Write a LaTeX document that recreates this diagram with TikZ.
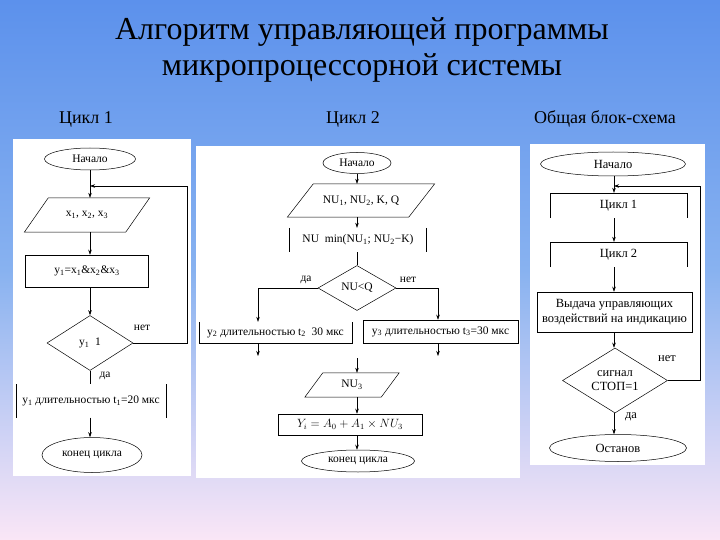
\documentclass[tikz,border=0pt]{standalone}
\usepackage{fontspec}
\setmainfont{Liberation Serif}
\usetikzlibrary{shapes.geometric,arrows.meta}
\definecolor{bgtop}{RGB}{92,145,236}
\definecolor{bgmid}{RGB}{136,178,240}
\definecolor{bglav}{RGB}{210,212,245}
\definecolor{bgbot}{RGB}{250,230,246}
\pgfdeclareverticalshading{slidebg}{100bp}{color(0bp)=(bgbot); color(25bp)=(bgbot); color(34bp)=(bglav); color(50bp)=(bgmid); color(75bp)=(bgtop); color(100bp)=(bgtop)}
\newcommand\ioframe[2]{\draw[wire] ([xshift=#2pt]#1.north west) -- ([xshift=#2pt]#1.north east) -- ([xshift=-#2pt]#1.south east) -- ([xshift=-#2pt]#1.south west) -- cycle;}
\tikzset{
  sm/.style={font=\rmfamily\fontsize{11.5}{13}\selectfont},
  md/.style={font=\rmfamily\fontsize{12.5}{14.5}\selectfont},
  wire/.style={line width=0.5pt},
  flow/.style={line width=0.5pt, -{Stealth[length=5pt,width=3.5pt]}},
  box/.style={draw, line width=0.5pt, inner sep=0pt},
  bare/.style={inner sep=0pt},
  term/.style={ellipse, draw, line width=0.5pt, inner sep=0pt},
  cond/.style={diamond, draw, line width=0.5pt, inner sep=0pt, aspect=1.6, align=center},
}
\begin{document}
\begin{tikzpicture}[x=1pt, y=-1pt]
\useasboundingbox (0,0) rectangle (720,540);
\shade[shading=slidebg] (0,0) rectangle (720,540);
\node[align=center, font=\rmfamily\fontsize{32}{36}\selectfont] (ttl) at (362,50) {Алгоритм управляющей программы\\микропроцессорной системы};
\node[font=\rmfamily\fontsize{18}{20}\selectfont] (h1) at (86,119) {Цикл 1};
\node[font=\rmfamily\fontsize{18}{20}\selectfont] (h2) at (353,119) {Цикл 2};
\node[font=\rmfamily\fontsize{18}{20}\selectfont] (h3) at (605,119) {Общая блок-схема};
\fill[white] (13,139) rectangle (191,476);
\fill[white] (196,146) rectangle (520,478);
\fill[white] (530,144) rectangle (705,465);

\node[term, sm, minimum width=91pt, minimum height=22pt] (st1) at (90,159) {Начало};
\node[bare, sm, minimum width=101pt, minimum height=34pt] (in1) at (87,215) {x\textsubscript{1}, x\textsubscript{2}, x\textsubscript{3}};
\ioframe{in1}{12}
\node[box, sm, minimum width=123pt, minimum height=32pt] (op1) at (87,271) {y\textsubscript{1}=x\textsubscript{1}\&x\textsubscript{2}\&x\textsubscript{3}};
\node[cond, sm, minimum width=86pt, minimum height=55pt] (cnd1) at (90,343) {y\textsubscript{1}\enspace 1};
\node[bare, sm, minimum width=150pt, minimum height=33pt] (out1) at (91,401) {y\textsubscript{1} длительностью t\textsubscript{1}=20 мкс};
\draw[wire] (out1.north west) -- (out1.south west) (out1.north east) -- (out1.south east);
\node[term, sm, minimum width=100pt, minimum height=35pt] (end1) at (92,455) {конец цикла};
\node[sm] (no1) at (142,328) {нет};
\node[sm] (yes1) at (105,376) {да};
\coordinate (j1) at (90,186);
\coordinate (r1) at (187,186);
\draw[wire] (st1) -- (j1);
\draw[flow] (j1) -- (j1 |- in1.north);
\draw[flow] (j1 |- in1.south) -- (j1 |- op1.north);
\draw[flow] (j1 |- op1.south) -- (cnd1.north);
\draw[wire] (cnd1.south) -- (cnd1.south |- out1.north);
\draw[flow] (cnd1.south |- out1.south) -- (cnd1.south |- end1.north);
\draw[flow] (cnd1.east) -| (r1) -- (j1);

\node[term, sm, minimum width=68pt, minimum height=21pt] (st2) at (357,163) {Начало};
\node[bare, sm, minimum width=121pt, minimum height=33pt] (in2) at (361,200.5) {NU\textsubscript{1}, NU\textsubscript{2}, K, Q};
\ioframe{in2}{13}
\node[bare, sm, minimum width=137pt, minimum height=24pt] (op2) at (358,240) {NU\enspace min(NU\textsubscript{1}; NU\textsubscript{2}−K)};
\draw[wire] (op2.north west) -- (op2.south west) (op2.north east) -- (op2.south east);
\node[cond, sm, minimum width=78pt, minimum height=45pt] (cnd2) at (357,288) {NU<Q};
\node[sm] (yes2) at (306,280) {да};
\node[sm] (no2) at (408,280) {нет};
\node[bare, sm, minimum width=153pt, minimum height=21pt] (out2) at (275.5,332.5) {y\textsubscript{2} длительностью t\textsubscript{2}\enspace 30 мкс};
\draw[wire] (out2.north west) |- (out2.south east) -- (out2.north east);
\node[box, sm, minimum width=155pt, minimum height=23pt] (out3) at (440.5,331.5) {y\textsubscript{3} длительностью t\textsubscript{3}=30 мкс};
\node[bare, sm, minimum width=76pt, minimum height=24pt] (in3) at (352,385) {NU\textsubscript{3}};
\ioframe{in3}{9}
\node[box, sm, minimum width=144pt, minimum height=21pt] (op3) at (350,424.5) {$Y_i = A_0 + A_1 \times NU_3$};
\node[term, sm, minimum width=113pt, minimum height=22pt] (end2) at (358,461) {конец цикла};
\coordinate (x2l) at (258,0);
\coordinate (x2m) at (357,0);
\coordinate (x2r) at (438,0);
\coordinate (s2l) at (258,356);
\coordinate (s2r) at (438,356);
\coordinate (s2m) at (357,358);
\draw[flow] (st2.south) -- (x2m |- in2.north);
\draw[flow] (x2m |- in2.south) -- (x2m |- op2.north);
\draw[wire] (x2m |- op2.south) -- (cnd2.north);
\draw[flow] (cnd2.west) -- (cnd2.west -| x2l) -- (x2l |- out2.north);
\draw[flow] (cnd2.east) -- (cnd2.east -| x2r) -- (x2r |- out3.north);
\draw[flow] (x2l |- out2.south) -- (s2l);
\draw[flow] (x2r |- out3.south) -- (s2r);
\draw[flow] (s2m) -- (s2m |- in3.north);
\draw[flow] (s2m |- in3.south) -- (s2m |- op3.north);
\draw[flow] (s2m |- op3.south) -- (s2m |- end2.north);

\node[term, md, minimum width=145pt, minimum height=24pt] (st3) at (613,164) {Начало};
\node[bare, md, minimum width=137pt, minimum height=25pt] (c31) at (618.5,205.5) {Цикл 1};
\draw[wire] (c31.south west) |- (c31.north east) -- (c31.south east);
\node[bare, md, minimum width=137pt, minimum height=25pt] (c32) at (618.5,254.5) {Цикл 2};
\draw[wire] (c32.south west) |- (c32.north east) -- (c32.south east);
\node[box, md, align=center, minimum width=155pt, minimum height=40pt] (op4) at (614.5,312) {Выдача управляющих\\воздействий на индикацию};
\node[cond, md, minimum width=105pt, minimum height=65pt] (cnd3) at (615,380.5) {сигнал\\СТОП=1};
\node[term, md, minimum width=137pt, minimum height=27pt] (end3) at (618,448) {Останов};
\node[md] (no3) at (667,359) {нет};
\node[md] (yes3) at (631,417) {да};
\coordinate (x3) at (614,0);
\coordinate (j3) at (614,186);
\coordinate (r3) at (700,186);
\draw[wire] (x3 |- st3.south) -- (j3);
\draw[flow] (j3) -- (x3 |- c31.north);
\draw[flow] (x3 |- c31.south) -- (x3 |- c32.north);
\draw[flow] (x3 |- c32.south) -- (x3 |- op4.north);
\draw[flow] (x3 |- op4.south) -- (x3 |- cnd3.north);
\draw[flow] (x3 |- cnd3.south) -- (x3 |- end3.north);
\draw[flow] (cnd3.east) -- (cnd3.east -| r3) -- (r3) -- (j3);
\end{tikzpicture}
\end{document}
